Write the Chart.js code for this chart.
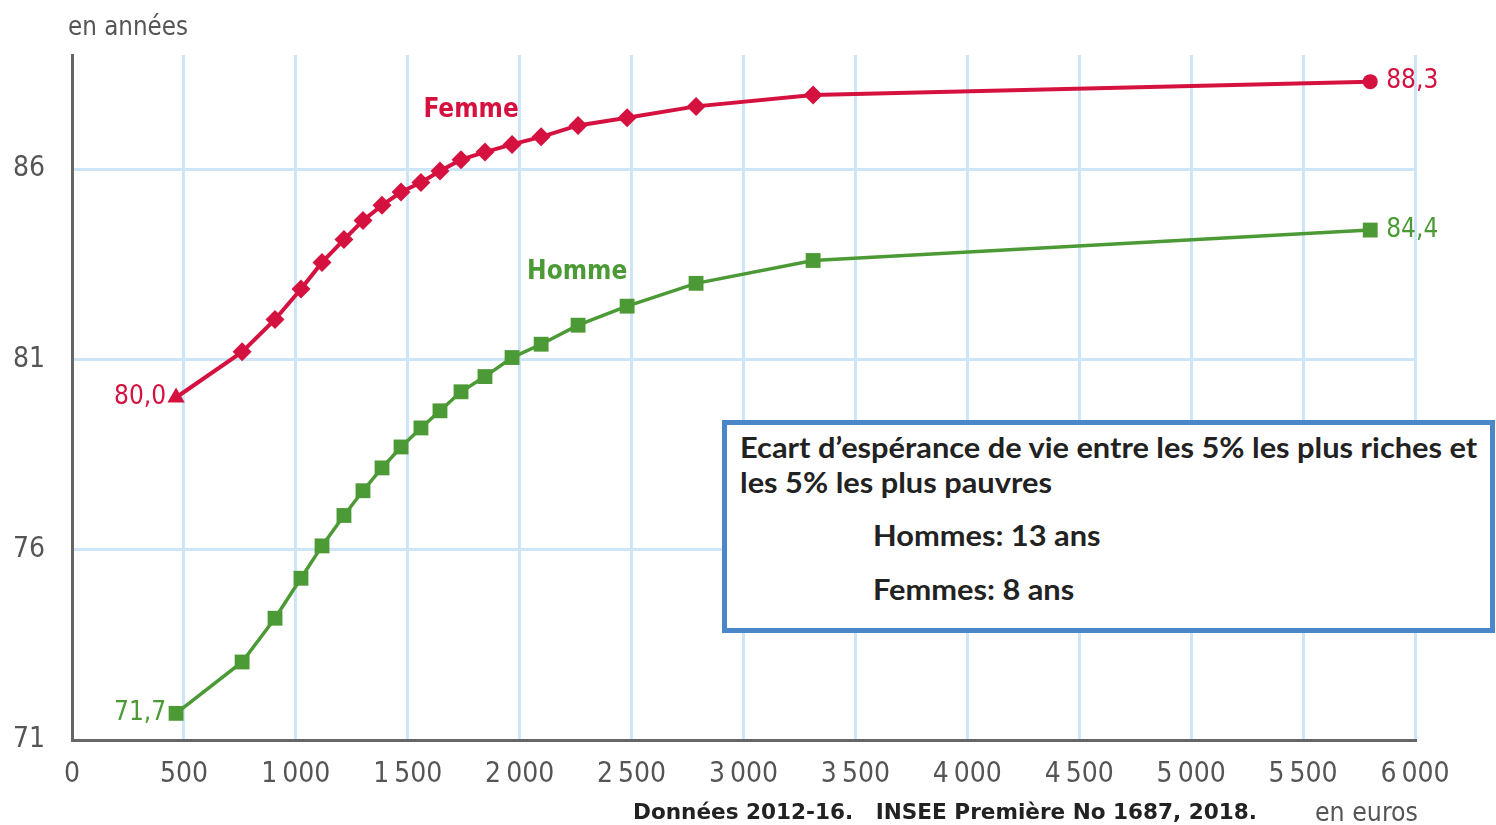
<!DOCTYPE html>
<html><head><meta charset="utf-8">
<script src="https://cdn.jsdelivr.net/npm/chart.js@4"></script>
<style>
html,body{margin:0;padding:0;background:#fff;width:1496px;height:825px;overflow:hidden}
#wrap{position:relative;width:1496px;height:825px}
#c{position:absolute;left:0;top:0}
.t{position:absolute;white-space:nowrap;transform-origin:left top}
#box{position:absolute;left:722px;top:420px;width:763px;height:203px;border:5px solid #4a86c8;background:#fff}
</style></head>
<body><div id="wrap"><canvas id="c" width="1496" height="825"></canvas><div id="box"></div></div>
<script>
// ---- Data ----
const revenus = [465, 760, 907, 1023, 1117, 1215, 1300, 1385, 1470, 1559, 1644, 1738, 1845, 1966, 2096, 2261, 2480, 2788, 3311, 5800];
const femmes  = [80.0, 81.2, 82.05, 82.85, 83.55, 84.15, 84.65, 85.05, 85.4, 85.65, 85.95, 86.25, 86.45, 86.65, 86.85, 87.15, 87.35, 87.65, 87.95, 88.3];
const hommes  = [71.7, 73.05, 74.2, 75.25, 76.1, 76.9, 77.55, 78.15, 78.7, 79.2, 79.65, 80.15, 80.55, 81.05, 81.4, 81.9, 82.4, 83.0, 83.6, 84.4];
const xTicks = [0, 500, 1000, 1500, 2000, 2500, 3000, 3500, 4000, 4500, 5000, 5500, 6000];
const yTicks = [71, 76, 81, 86];
const seriesNames = ['Femme', 'Homme'];
const boxLines = ["Ecart d\u2019esp\u00e9rance de vie entre les 5% les plus riches et", "les 5% les plus pauvres", "Hommes: 13 ans", "Femmes: 8 ans"];

const RED = '#d5123f', GREEN = '#4c9a36', GRID = '#cde5f7', AXIS = '#666';
const NARROW = "'Liberation Sans Narrow','Arial Narrow','DejaVu Sans Condensed',sans-serif";

function fmt(v){ const s = String(v); return s.length > 3 ? s.slice(0, -3) + '\u2009' + s.slice(-3) : s; }
function fr(v){ return v.toFixed(1).replace('.', ','); }

const n = revenus.length;
const femStyles = revenus.map((_, i) => i === 0 ? 'triangle' : (i === n - 1 ? 'circle' : 'rectRot'));
const femRadius = revenus.map((_, i) => i === n - 1 ? 7.5 : (i === 0 ? 10 : 9.5));

const labelsPlugin = {
  id: 'labelsPlugin',
  afterDatasetsDraw(chart) {
    const {ctx, scales: {x, y}} = chart;
    ctx.save();
    ctx.textBaseline = 'middle';
    const sets = [[femmes, RED], [hommes, GREEN]];
    ctx.font = `26px ${NARROW}`;
    sets.forEach(([vals, col]) => {
      ctx.fillStyle = col;
      ctx.textAlign = 'right';
      ctx.fillText(fr(vals[0]), x.getPixelForValue(revenus[0]) - 10, y.getPixelForValue(vals[0]));
      ctx.textAlign = 'left';
      ctx.fillText(fr(vals[n - 1]), x.getPixelForValue(revenus[n - 1]) + 16, y.getPixelForValue(vals[n - 1]));
    });
    // series names
    ctx.font = `bold 26px ${NARROW}`;
    ctx.textAlign = 'center';
    const pos = [[1783, 87.55, RED], [2257, 83.3, GREEN]];
    pos.forEach(([px, py, col], i) => {
      ctx.fillStyle = col;
      ctx.fillText(seriesNames[i], x.getPixelForValue(px), y.getPixelForValue(py));
    });
    ctx.restore();
  }
};

new Chart(document.getElementById('c'), {
  type: 'line',
  data: {
    datasets: [
      {
        label: seriesNames[0],
        data: revenus.map((r, i) => ({x: r, y: femmes[i]})),
        borderColor: RED, backgroundColor: RED, borderWidth: 4,
        pointStyle: femStyles, pointRadius: femRadius, pointBackgroundColor: RED, pointBorderWidth: 0,
        tension: 0
      },
      {
        label: seriesNames[1],
        data: revenus.map((r, i) => ({x: r, y: hommes[i]})),
        borderColor: GREEN, backgroundColor: GREEN, borderWidth: 3.5,
        pointStyle: 'rect', pointRadius: 10.5, pointBackgroundColor: GREEN, pointBorderWidth: 0,
        tension: 0
      }
    ]
  },
  options: {
    responsive: false, animation: false,
    layout: {padding: {left: 0, right: 81, top: 55, bottom: 0}},
    plugins: {legend: {display: false}, tooltip: {enabled: false}},
    scales: {
      x: {
        type: 'linear', min: 0, max: 6000,
        afterBuildTicks: s => { s.ticks = xTicks.map(v => ({value: v})); },
        afterFit: s => { s.height = 85; },
        grid: {color: c => (c.tick && c.tick.value === 0) ? 'rgba(0,0,0,0)' : GRID, lineWidth: 3, drawTicks: false},
        border: {color: AXIS, width: 3},
        ticks: {callback: v => fmt(v), color: '#555', font: {family: NARROW, size: 28}, padding: 18, maxRotation: 0, autoSkip: false}
      },
      y: {
        type: 'linear', min: 71, max: 89,
        afterBuildTicks: s => { s.ticks = yTicks.map(v => ({value: v})); },
        afterFit: s => { s.width = 72; },
        grid: {color: c => (c.tick && c.tick.value === 71) ? 'rgba(0,0,0,0)' : GRID, lineWidth: 3, drawTicks: false},
        border: {color: AXIS, width: 3},
        ticks: {color: '#555', font: {family: NARROW, size: 28}, padding: 27}
      }
    }
  },
  plugins: [labelsPlugin]
});

// ---- HTML text ----
const mc = document.createElement('canvas').getContext('2d');
function placeText(txt, o) {
  const el = document.createElement('div');
  el.className = 't'; el.textContent = txt;
  const font = `${o.weight || 'normal'} ${o.size}px ${o.family}`;
  el.style.font = font;
  el.style.lineHeight = o.size + 'px';
  el.style.color = o.color;
  document.getElementById('wrap').appendChild(el);
  mc.font = font;
  const m = mc.measureText(txt);
  const asc = m.fontBoundingBoxAscent, desc = m.fontBoundingBoxDescent;
  const off = (o.size - (asc + desc)) / 2 + asc;
  el.style.top = (o.baseline - off) + 'px';
  el.style.left = o.left + 'px';
  let sc = o.scale;
  if (o.width) sc = o.width / m.width;
  if (sc) el.style.transform = `scaleX(${sc})`;
  return sc;
}
placeText('en ann\u00e9es', {left: 68, baseline: 35, size: 26, family: NARROW, color: '#555', width: 120});
placeText('en euros', {left: 1315, baseline: 821, size: 26, family: NARROW, color: '#555', width: 103});
placeText('Donn\u00e9es 2012-16.\u00a0\u00a0\u00a0INSEE Premi\u00e8re No 1687, 2018.', {left: 633, baseline: 819, size: 21, family: NARROW, weight: 'bold', color: '#222', width: 624});
const BOXF = "Lato,'Open Sans',sans-serif";
const sc = placeText(boxLines[0], {left: 740, baseline: 458, size: 29, family: BOXF, weight: 'bold', color: '#222', width: 738});
placeText(boxLines[1], {left: 740, baseline: 493, size: 29, family: BOXF, weight: 'bold', color: '#222', scale: sc});
placeText(boxLines[2], {left: 873, baseline: 546, size: 29, family: BOXF, weight: 'bold', color: '#222', scale: sc});
placeText(boxLines[3], {left: 873, baseline: 600, size: 29, family: BOXF, weight: 'bold', color: '#222', scale: sc});
</script>
</body></html>
